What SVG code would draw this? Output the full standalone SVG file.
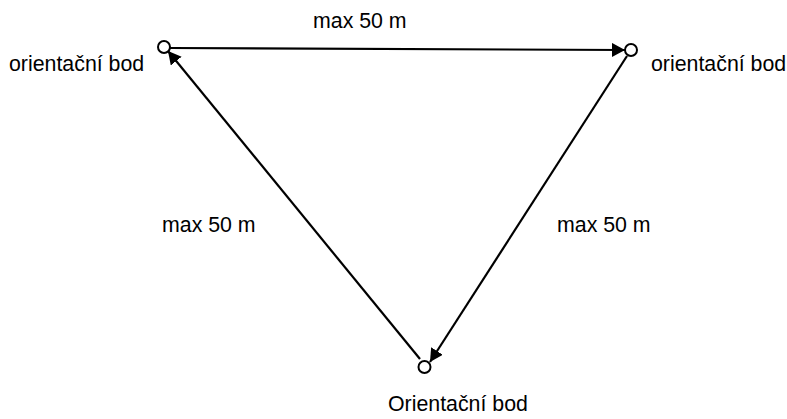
<svg xmlns="http://www.w3.org/2000/svg" width="787" height="419" viewBox="0 0 787 419">
<style>
.lbl{font-family:"Liberation Sans",Arial,sans-serif;font-size:21.33px;fill:#000}
.pt{fill:#fff;stroke:#000;stroke-width:2}
.edge{stroke:#000;stroke-width:2.2;fill:none;marker-end:url(#ah)}
</style>
<defs>
<marker id="ah" markerUnits="userSpaceOnUse" markerWidth="14" markerHeight="14" refX="13" refY="7" orient="auto">
<path d="M0,0 L13,7 L0,14 Z" fill="#000"/>
</marker>
</defs>
<rect width="787" height="419" fill="#fff"/>
<g id="connectors">
<line class="edge" x1="170" y1="48" x2="625" y2="50"/>
<line class="edge" x1="627" y1="56" x2="430" y2="362"/>
<line class="edge" x1="420" y1="359" x2="168" y2="51"/>
</g>
<g id="node-left">
<circle class="pt" cx="164" cy="47" r="6"/>
<text class="lbl" x="9" y="71">orientační bod</text>
</g>
<g id="node-right">
<circle class="pt" cx="631" cy="50" r="6"/>
<text class="lbl" x="651" y="71">orientační bod</text>
</g>
<g id="node-bottom">
<circle class="pt" cx="424.5" cy="367" r="6"/>
<text class="lbl" x="388" y="411">Orientační bod</text>
</g>
<g id="labels">
<text class="lbl" x="313" y="28">max 50 m</text>
<text class="lbl" x="162" y="232">max 50 m</text>
<text class="lbl" x="557" y="232">max 50 m</text>
</g>
</svg>
